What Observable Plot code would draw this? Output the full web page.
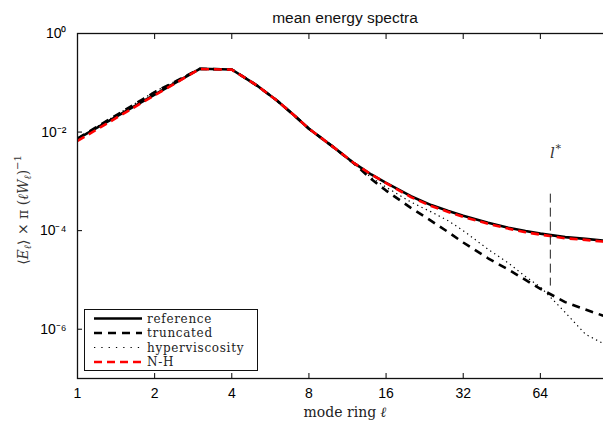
<!DOCTYPE html>
<html>
<head>
<meta charset="utf-8">
<script src="https://cdn.jsdelivr.net/npm/d3@7"></script>
<script src="https://cdn.jsdelivr.net/npm/@observablehq/plot@0.6"></script>
<style>
  html, body { margin: 0; padding: 0; background: #fff; overflow: hidden; width: 603px; height: 421px; }
  #chart { position: relative; width: 603px; height: 421px; overflow: hidden; }
  #chart svg { max-width: none !important; display: block; }
</style>
</head>
<body>
<div id="chart"></div>
<script>
// ---- data ----
const ell = [1, 2, 3, 4, 5, 6, 7, 8, 10, 12, 14, 16, 20, 24, 28, 32, 40, 48, 56, 64, 80, 96, 112, 128];
const referenceE = [7.24e-3, 5.75e-2, 0.192, 0.186, 8.9e-2, 4.37e-2, 2.19e-2, 1.17e-2, 4.9e-3, 2.34e-3, 1.38e-3, 9.3e-4, 5.0e-4, 3.3e-4, 2.5e-4, 2.0e-4, 1.45e-4, 1.15e-4, 9.8e-5, 8.7e-5, 7.4e-5, 6.8e-5, 6.3e-5, 6.0e-5];
const truncatedE = [7.4e-3, 6.45e-2, 0.192, 0.186, 8.9e-2, 4.37e-2, 2.19e-2, 1.17e-2, 4.9e-3, 2.3e-3, 1.12e-3, 6.5e-4, 2.9e-4, 1.58e-4, 9.3e-5, 5.75e-5, 2.75e-5, 1.62e-5, 1.0e-5, 6.6e-6, 3.55e-6, 2.5e-6, 1.9e-6, 1.58e-6];
const hyperviscosityE = [7.3e-3, 6.6e-2, 0.192, 0.186, 8.9e-2, 4.37e-2, 2.19e-2, 1.17e-2, 4.9e-3, 2.3e-3, 1.2e-3, 7.6e-4, 3.8e-4, 2.4e-4, 1.58e-4, 1.0e-4, 4.2e-5, 2.2e-5, 1.17e-5, 7.2e-6, 2.2e-6, 7.9e-7, 5.2e-7, 4.2e-7];
const nhE = [6.6e-3, 5.6e-2, 0.19, 0.185, 8.9e-2, 4.37e-2, 2.19e-2, 1.17e-2, 4.9e-3, 2.34e-3, 1.38e-3, 9.2e-4, 4.8e-4, 3.15e-4, 2.4e-4, 1.9e-4, 1.38e-4, 1.1e-4, 9.3e-5, 8.3e-5, 7.0e-5, 6.5e-5, 6.0e-5, 5.7e-5];

const seriesNames = ["reference", "truncated", "hyperviscosity", "N-H"];
const xTicks = [1, 2, 4, 8, 16, 32, 64];
const yTicks = [1, 1e-2, 1e-4, 1e-6];
const yTickLabels = ["10⁰", "10⁻²", "10⁻⁴", "10⁻⁶"];
const lStar = [70];
const lStarTop = [5.5e-4];
const lStarBottom = [7.5e-6];
const lStarLabelY = [3.7e-3];

// ---- styles per series ----
const styles = {
  "reference":      {stroke: "#000", strokeWidth: 2.6, strokeDasharray: null},
  "truncated":      {stroke: "#000", strokeWidth: 2.6, strokeDasharray: "8,6"},
  "hyperviscosity": {stroke: "#000", strokeWidth: 1.2, strokeDasharray: "1.3,3.5"},
  "N-H":            {stroke: "#ff0000", strokeWidth: 2.6, strokeDasharray: "8,5"}
};
const seriesData = {
  "reference": referenceE,
  "truncated": truncatedE,
  "hyperviscosity": hyperviscosityE,
  "N-H": nhE
};
const drawOrder = ["truncated", "hyperviscosity", "reference", "N-H"];

const lineMarks = drawOrder.map(name => {
  const rows = ell.map((l, i) => ({l, e: seriesData[name][i]}));
  const s = styles[name];
  return Plot.line(rows, {x: "l", y: "e", stroke: s.stroke, strokeWidth: s.strokeWidth,
    strokeDasharray: s.strokeDasharray, strokeLinecap: "butt", strokeLinejoin: "round"});
});

const plot = Plot.plot({
  width: 618,
  height: 421,
  marginTop: 33,
  marginBottom: 43,
  marginLeft: 77,
  marginRight: 1,
  style: {background: "#fff", color: "#000", maxWidth: "none"},
  x: {type: "log", base: 2, domain: [1, 128]},
  y: {type: "log", domain: [1e-7, 1]},
  marks: [
    // axis labels (no tick lines)
    Plot.axisX({anchor: "bottom", ticks: xTicks, tickSize: 0, tickPadding: 10, tickFormat: d => String(d), label: null}),
    Plot.axisY({anchor: "left", ticks: yTicks, tickSize: 0, tickPadding: 11, tickFormat: d => yTickLabels[yTicks.indexOf(d)], label: null}),
    // inward ticks
    Plot.axisX({anchor: "bottom", ticks: xTicks, tickSize: -5, tickFormat: () => "", label: null}),
    Plot.axisX({anchor: "top", ticks: xTicks, tickSize: -5, tickFormat: () => "", label: null}),
    Plot.axisY({anchor: "left", ticks: yTicks, tickSize: -5, tickFormat: () => "", label: null}),
    ...lineMarks,
    Plot.ruleX(lStar, {x: d => d, y1: () => lStarTop[0], y2: () => lStarBottom[0], stroke: "#222", strokeWidth: 1, strokeDasharray: "9,5"}),
    Plot.text(lStar, {x: d => d, y: () => lStarLabelY[0], text: () => "l", fontFamily: "DejaVu Serif, serif", fontStyle: "italic", fontSize: 15, fill: "#333", dx: 2}),
    Plot.text(lStar, {x: d => d, y: () => lStarLabelY[0], text: () => "*", fontFamily: "DejaVu Serif, serif", fontSize: 11, fill: "#333", dx: 8, dy: -5}),
    Plot.frame({stroke: "#111", strokeWidth: 1.3})
  ]
});

document.getElementById("chart").appendChild(plot);

const svg = d3.select(plot);
// tick label fonts
svg.selectAll('g[aria-label="x-axis tick label"] text, g[aria-label="y-axis tick label"] text')
  .attr("font-family", "Liberation Sans, Arial, sans-serif").attr("font-size", 14).attr("fill", "#000");

const serif = "DejaVu Serif, Liberation Serif, serif";

svg.append("text").attr("x", 345).attr("y", 23).attr("text-anchor", "middle")
  .attr("font-family", "Liberation Sans, Arial, sans-serif").attr("font-size", 15.5).attr("fill", "#111")
  .text("mean energy spectra");

const xl = svg.append("text").attr("x", 345).attr("y", 417).attr("text-anchor", "middle")
  .attr("font-family", serif).attr("font-size", 14).attr("fill", "#222");
xl.append("tspan").text("mode ring ");
xl.append("tspan").attr("font-style", "italic").text("ℓ");

const yl = svg.append("text").attr("transform", "translate(28,210) rotate(-90)").attr("text-anchor", "middle")
  .attr("font-family", serif).attr("font-size", 14).attr("fill", "#333");
yl.append("tspan").text("⟨");
yl.append("tspan").attr("font-style", "italic").text("E");
yl.append("tspan").attr("font-style", "italic").attr("font-size", 10).attr("dy", 3).text("ℓ");
yl.append("tspan").attr("dy", -3).text("⟩ × π (");
yl.append("tspan").attr("font-style", "italic").text("ℓW");
yl.append("tspan").attr("font-style", "italic").attr("font-size", 10).attr("dy", 3).text("ℓ");
yl.append("tspan").attr("dy", -3).text(")");
yl.append("tspan").attr("font-size", 10).attr("dy", -7).text("−1");

// legend
const lg = svg.append("g").attr("text-anchor", "start");
lg.append("rect").attr("x", 84.5).attr("y", 309.5).attr("width", 173).attr("height", 61)
  .attr("fill", "#fff").attr("stroke", "#111").attr("stroke-width", 1);
const legendY = [318.5, 333, 347.5, 362];
seriesNames.forEach((name, i) => {
  const s = styles[name];
  lg.append("line").attr("x1", 94).attr("x2", 142).attr("y1", legendY[i]).attr("y2", legendY[i])
    .attr("stroke", s.stroke).attr("stroke-width", s.strokeWidth)
    .attr("stroke-dasharray", s.strokeDasharray === styles["hyperviscosity"].strokeDasharray ? "1.3,6" : (s.strokeDasharray || null));
  lg.append("text").attr("x", 147).attr("y", legendY[i] + 4).attr("text-anchor", "start")
    .attr("font-family", serif).attr("font-size", 12).attr("letter-spacing", 0.7)
    .attr("fill", "#222").text(name);
});
</script>
</body>
</html>
